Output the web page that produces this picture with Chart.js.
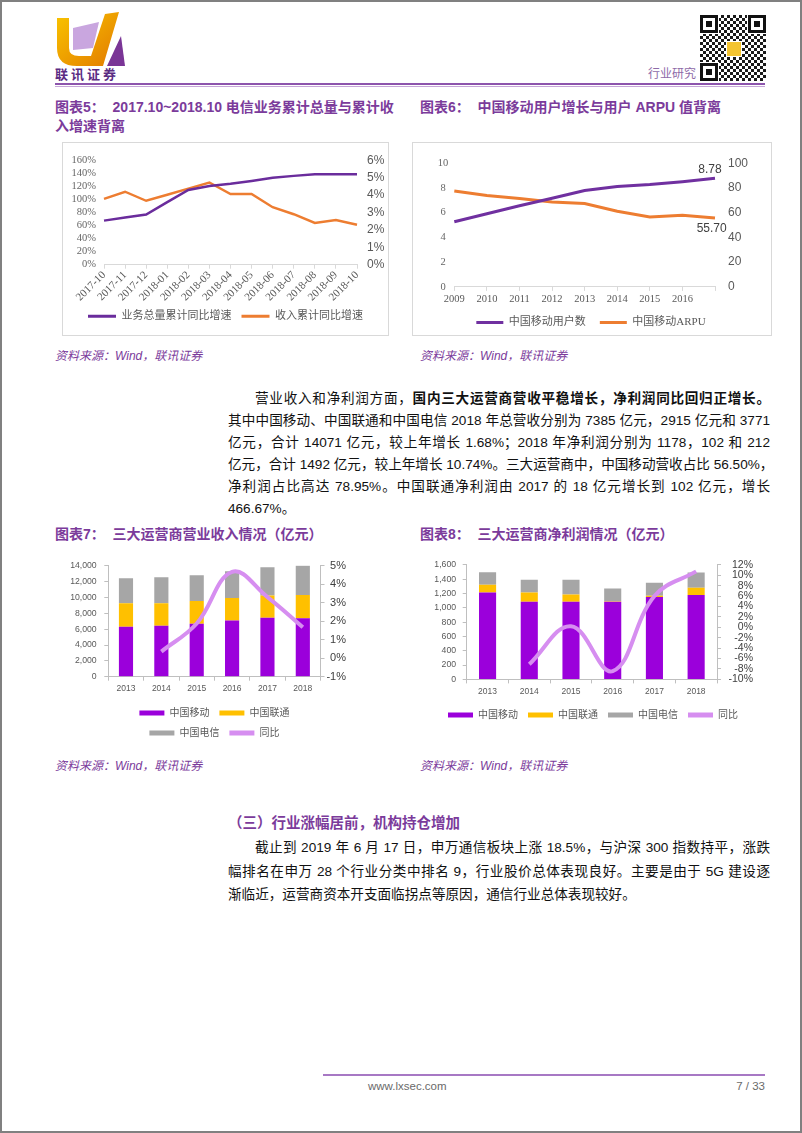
<!DOCTYPE html>
<html>
<head>
<meta charset="utf-8">
<script src="https://cdn.jsdelivr.net/npm/chart.js@4.4.0/dist/chart.umd.min.js"></script>
<style>
  html, body { margin: 0; padding: 0; background: #fff; }
  body { width: 802px; height: 1133px; position: relative; overflow: hidden;
         font-family: "Liberation Sans", "Noto Sans CJK SC", sans-serif; color: #111; }
  .frame { position: absolute; left: 0; top: 0; width: 798px; height: 1129px; border: 2px solid #808080; }
  .abs { position: absolute; }
  .title { position: absolute; color: #7B3B9B; font-weight: bold; font-size: 14px; line-height: 19px; white-space: nowrap; }
  .src { position: absolute; color: #7B3B9B; font-style: italic; font-size: 12px; line-height: 16px; white-space: nowrap; }
  .box { position: absolute; border: 1px solid #D9D9D9; }
  .chart { position: absolute; }
  .para { position: absolute; left: 228px; width: 542px; font-size: 13.6px; }
  .para div { white-space: nowrap; text-align: justify; text-align-last: justify; }
  .para div.last { text-align-last: left; }
  .fp { position: absolute; width: 6px; height: 6px; background: #111;
        box-shadow: 0 0 0 3px #fff, 0 0 0 6px #111, 0 0 0 7px #fff; }
</style>
</head>
<body>
<div class="frame"></div>

<!-- header -->
<svg class="abs" style="left:55px;top:10px" width="72" height="58" viewBox="0 0 72 58">
  <defs>
    <linearGradient id="lg" x1="0" y1="0" x2="1" y2="1">
      <stop offset="0" stop-color="#F9C400"/>
      <stop offset="1" stop-color="#E27A00"/>
    </linearGradient>
  </defs>
  <path d="M2 8 L14 8 L14 38 Q14 46 24 46 L36 46 L50 4 L64 2 L48 56 L22 56 Q2 56 2 38 Z" fill="url(#lg)"/>
  <path d="M18 18 L44 12 L38 38 L18 40 Z" fill="#C9A6DF"/>
  <path d="M52 56 L66 26 L70 56 Z" fill="#7A3596"/>
</svg>
<div class="abs" style="left:55px;top:64px;font-size:13px;font-weight:bold;color:#5B2C83;letter-spacing:3px;">联讯证券</div>
<div class="abs" style="left:700px;top:15px;width:66px;height:66px;background:repeating-conic-gradient(#1a1a1a 0 25%, #fff 0 50%) 0 0/6px 6px;">
  <div class="fp" style="left:6px;top:6px"></div>
  <div class="fp" style="left:54px;top:6px"></div>
  <div class="fp" style="left:6px;top:54px"></div>
  <div class="abs" style="left:26px;top:26px;width:14px;height:14px;background:#F4C430;border:1px solid #fff;"></div>
</div>
<div class="abs" style="left:648px;top:64px;font-size:12px;color:#8E6AA8;">行业研究</div>
<div class="abs" style="left:55px;top:83px;width:710px;height:2px;background:#8D55AD;"></div>
<div class="abs" style="left:55px;top:86px;width:710px;height:1px;background:#C7A6D8;"></div>

<!-- charts 5 & 6 -->
<div class="title" style="left:55px;top:98px;">图表5：&nbsp;&nbsp;2017.10~2018.10 电信业务累计总量与累计收</div>
<div class="title" style="left:55px;top:117px;">入增速背离</div>
<div class="title" style="left:420px;top:98px;">图表6：&nbsp;&nbsp;中国移动用户增长与用户 ARPU 值背离</div>

<div class="box" style="left:62px;top:142px;width:325px;height:192px;"></div>
<div class="box" style="left:412px;top:142px;width:358px;height:192px;"></div>
<div class="chart" style="left:63px;top:143px;width:325px;height:192px;"><canvas id="c5"></canvas></div>
<div class="chart" style="left:412px;top:143px;width:358px;height:195px;"><canvas id="c6"></canvas></div>

<div class="src" style="left:55px;top:348px;">资料来源：Wind，联讯证券</div>
<div class="src" style="left:420px;top:348px;">资料来源：Wind，联讯证券</div>

<div class="para" style="top:388px;line-height:22px;">
  <div style="padding-left:27px;">营业收入和净利润方面，<b>国内三大运营商营收平稳增长，净利润同比回归正增长。</b></div>
  <div>其中中国移动、中国联通和中国电信 2018 年总营收分别为 7385 亿元，2915 亿元和 3771</div>
  <div>亿元，合计 14071 亿元，较上年增长 1.68%；2018 年净利润分别为 1178，102 和 212</div>
  <div>亿元，合计 1492 亿元，较上年增长 10.74%。三大运营商中，中国移动营收占比 56.50%，</div>
  <div>净利润占比高达 78.95%。中国联通净利润由 2017 的 18 亿元增长到 102 亿元，增长</div>
  <div class="last">466.67%。</div>
</div>

<!-- charts 7 & 8 -->
<div class="title" style="left:55px;top:525px;">图表7：&nbsp;&nbsp;三大运营商营业收入情况（亿元）</div>
<div class="title" style="left:420px;top:525px;">图表8：&nbsp;&nbsp;三大运营商净利润情况（亿元）</div>
<div class="chart" style="left:55px;top:553px;width:335px;height:195px;"><canvas id="c7"></canvas></div>
<div class="chart" style="left:410px;top:553px;width:370px;height:177px;"><canvas id="c8"></canvas></div>
<div class="src" style="left:55px;top:758px;">资料来源：Wind，联讯证券</div>
<div class="src" style="left:420px;top:758px;">资料来源：Wind，联讯证券</div>

<div class="abs" style="left:228px;top:813px;font-size:14.5px;line-height:20px;font-weight:bold;color:#7B3B9B;white-space:nowrap;">（三）行业涨幅居前，机构持仓增加</div>
<div class="para" style="top:836px;line-height:23.5px;">
  <div style="padding-left:27px;">截止到 2019 年 6 月 17 日，申万通信板块上涨 18.5%，与沪深 300 指数持平，涨跌</div>
  <div>幅排名在申万 28 个行业分类中排名 9，行业股价总体表现良好。主要是由于 5G 建设逐</div>
  <div class="last">渐临近，运营商资本开支面临拐点等原因，通信行业总体表现较好。</div>
</div>

<!-- footer -->
<div class="abs" style="left:323px;top:1074px;width:442px;height:2px;background:#A778C4;"></div>
<div class="abs" style="left:368px;top:1079px;font-size:11.5px;line-height:14px;color:#6a6a6a;">www.lxsec.com</div>
<div class="abs" style="left:665px;top:1079px;width:100px;text-align:right;font-size:11.5px;line-height:14px;color:#6a6a6a;">7 / 33</div>

<script>
const sansCJK = '"Liberation Sans", "Noto Sans CJK SC", sans-serif';
const serifCJK = '"Liberation Serif", "Noto Sans CJK SC", serif';

// 图表5 电信业务累计总量 / 累计收入 同比增速
const c5Months = ['2017-10', '2017-11', '2017-12', '2018-01', '2018-02', '2018-03', '2018-04',
  '2018-05', '2018-06', '2018-07', '2018-08', '2018-09', '2018-10'];
const c5VolumeYoy = [67.5, 72.4, 76.8, 95.9, 114.5, 120.4, 123.8, 128.2, 133.0, 136.0, 138.5, 138.5, 138.5];
const c5RevenueYoy = [3.78, 4.19, 3.67, 4.02, 4.37, 4.72, 4.06, 4.06, 3.30, 2.90, 2.40, 2.56, 2.29];

// 图表6 中国移动用户数(亿) / ARPU(元)
const c6Years = ['2009', '2010', '2011', '2012', '2013', '2014', '2015', '2016', ''];
const c6Users = [5.27, 5.92, 6.56, 7.16, 7.79, 8.12, 8.27, 8.50, 8.78];
const c6Arpu = [77.6, 73.8, 71.4, 68.7, 67.4, 61.1, 56.6, 58.0, 55.70];

// 图表7 营业收入(亿元)
const c7Years = ['2013', '2014', '2015', '2016', '2017', '2018'];
const c7Mobile = [6300, 6430, 6690, 7100, 7440, 7385];
const c7Unicom = [2960, 2835, 2870, 2840, 2800, 2915];
const c7Telecom = [3180, 3300, 3260, 3390, 3595, 3771];
const c7Yoy = [null, 0.36, 1.88, 4.67, 3.31, 1.68];

// 图表8 净利润(亿元)
const c8Years = ['2013', '2014', '2015', '2016', '2017', '2018'];
const c8Mobile = [1213, 1086, 1086, 1086, 1150, 1178];
const c8Unicom = [108, 127, 100, 6, 18, 102];
const c8Telecom = [176, 180, 207, 179, 180, 212];
const c8Yoy = [null, -7.1, 0.2, -8.4, 6.0, 10.74];

const legendInOrder = (a, b) => a.datasetIndex - b.datasetIndex;
const flatBoxes = chart =>
  Chart.defaults.plugins.legend.labels.generateLabels(chart).map(l => Object.assign(l, { lineWidth: 0 }));
const pct = v => v + '%';

// values written at the end of the lines in chart 6
const endLabels = {
  id: 'endLabels',
  afterDatasetsDraw(chart, args, opts) {
    if (!opts.items) return;
    const ctx = chart.ctx;
    opts.items.forEach(it => {
      const meta = chart.getDatasetMeta(it.dataset);
      const values = chart.data.datasets[it.dataset].data;
      const idx = values.length - 1;
      const pt = meta.data[idx];
      ctx.save();
      ctx.font = '12px ' + sansCJK;
      ctx.fillStyle = '#404040';
      ctx.textAlign = 'center';
      ctx.textBaseline = 'middle';
      ctx.fillText(values[idx].toFixed(2), pt.x + it.dx, pt.y + it.dy);
      ctx.restore();
    });
  }
};

// ---- 图表5
new Chart(document.getElementById('c5'), {
  type: 'line',
  data: {
    labels: c5Months,
    datasets: [
      { label: '业务总量累计同比增速', data: c5VolumeYoy, yAxisID: 'y',
        borderColor: '#6A2C9C', backgroundColor: '#6A2C9C', borderWidth: 2.5, pointRadius: 0 },
      { label: '收入累计同比增速', data: c5RevenueYoy, yAxisID: 'y1',
        borderColor: '#ED7D31', backgroundColor: '#ED7D31', borderWidth: 2.5, pointRadius: 0 }
    ]
  },
  options: {
    responsive: true, maintainAspectRatio: false, animation: false, events: [],
    layout: { padding: { top: 12.7, bottom: 3.3, left: 0, right: 0 } },
    plugins: {
      tooltip: { enabled: false },
      legend: { position: 'bottom',
        labels: { boxWidth: 28, boxHeight: 3, padding: 10, color: '#595959',
          font: { family: serifCJK, size: 11 }, generateLabels: flatBoxes } }
    },
    scales: {
      x: {
        grid: { drawOnChartArea: false, tickLength: 4, color: '#D9D9D9' },
        border: { color: '#D9D9D9' },
        ticks: { minRotation: 45, maxRotation: 45, autoSkip: false, padding: 0, color: '#595959',
          font: { family: serifCJK, size: 11 } },
        afterFit: s => { s.height = 36; }
      },
      y: {
        position: 'left', min: 0, max: 160,
        grid: { display: false, drawTicks: false }, border: { display: false },
        ticks: { stepSize: 20, autoSkip: false, callback: pct, padding: 8, color: '#666',
          font: { family: serifCJK, size: 10.5 } },
        afterFit: s => { s.width = 41; }
      },
      y1: {
        position: 'right', min: 0, max: 6,
        grid: { display: false, drawTicks: false }, border: { display: false },
        ticks: { stepSize: 1, autoSkip: false, callback: pct, padding: 10, color: '#595959',
          font: { family: sansCJK, size: 12 } },
        afterFit: s => { s.width = 31; }
      }
    }
  }
});

// ---- 图表6
new Chart(document.getElementById('c6'), {
  type: 'line',
  data: {
    labels: c6Years,
    datasets: [
      { label: '中国移动用户数', data: c6Users, yAxisID: 'y',
        borderColor: '#7030A0', backgroundColor: '#7030A0', borderWidth: 3, pointRadius: 0 },
      { label: '中国移动ARPU', data: c6Arpu, yAxisID: 'y1',
        borderColor: '#ED7D31', backgroundColor: '#ED7D31', borderWidth: 3, pointRadius: 0 }
    ]
  },
  plugins: [endLabels],
  options: {
    responsive: true, maintainAspectRatio: false, animation: false, events: [],
    layout: { padding: { top: 12.7, bottom: 0, left: 0, right: 0 } },
    plugins: {
      tooltip: { enabled: false },
      endLabels: { items: [{ dataset: 0, dx: -5, dy: -8.4 }, { dataset: 1, dx: -3.3, dy: 10.6 }] },
      legend: { position: 'bottom',
        labels: { boxWidth: 27, boxHeight: 3, padding: 14, color: '#595959',
          font: { family: serifCJK, size: 11 }, generateLabels: flatBoxes } }
    },
    scales: {
      x: {
        grid: { drawOnChartArea: false, tickLength: 4, color: '#D9D9D9' },
        border: { color: '#D9D9D9' },
        ticks: { autoSkip: false, maxRotation: 0, padding: 2, color: '#595959',
          font: { family: serifCJK, size: 10.5 } },
        afterFit: s => { s.height = 16.1; }
      },
      y: {
        position: 'left', min: 0, max: 10,
        grid: { display: false, drawTicks: false }, border: { display: false },
        ticks: { stepSize: 2, autoSkip: false, crossAlign: 'center', padding: 6, color: '#666',
          font: { family: serifCJK, size: 10.5 } },
        afterFit: s => { s.width = 42.3; }
      },
      y1: {
        position: 'right', min: 0, max: 100,
        grid: { display: false, drawTicks: false }, border: { display: false },
        ticks: { stepSize: 20, autoSkip: false, padding: 13, color: '#595959',
          font: { family: sansCJK, size: 12 } },
        afterFit: s => { s.width = 55; }
      }
    }
  }
});

// stacked bars + smooth yoy line, shared by charts 7 and 8
function operatorChart(id, cfg) {
  const axisGrid = { drawOnChartArea: false, tickLength: 4, color: '#BFBFBF' };
  return new Chart(document.getElementById(id), {
    type: 'bar',
    data: {
      labels: cfg.labels,
      datasets: [
        { label: '中国移动', data: cfg.mobile, backgroundColor: '#9B00DB', order: 1 },
        { label: '中国联通', data: cfg.unicom, backgroundColor: '#FFC000', order: 1 },
        { label: '中国电信', data: cfg.telecom, backgroundColor: '#A6A6A6', order: 1 },
        { type: 'line', label: '同比', data: cfg.yoy, yAxisID: 'y1', order: 0,
          borderColor: '#D68EF0', backgroundColor: '#D68EF0', borderWidth: 4,
          pointRadius: 0, tension: 0.4 }
      ]
    },
    options: {
      responsive: true, maintainAspectRatio: false, animation: false, events: [],
      layout: { padding: cfg.padding },
      datasets: { bar: { barPercentage: cfg.barPct, categoryPercentage: 1 } },
      plugins: {
        tooltip: { enabled: false },
        legend: { position: 'bottom', fullSize: cfg.legendFull,
          labels: { boxWidth: 25, boxHeight: 5, padding: 10, color: '#595959',
            font: { family: sansCJK, size: 10 }, sort: legendInOrder, generateLabels: flatBoxes } }
      },
      scales: {
        x: {
          stacked: true,
          grid: axisGrid, border: { color: '#BFBFBF' },
          ticks: { padding: 3, color: '#595959', font: { family: sansCJK, size: 8.5 } },
          afterFit: s => { s.height = cfg.xHeight; }
        },
        y: {
          stacked: true, min: 0, max: cfg.yMax,
          grid: axisGrid, border: { color: '#BFBFBF' },
          ticks: { stepSize: cfg.yStep, autoSkip: false, padding: cfg.yPad, color: '#595959',
            font: { family: sansCJK, size: 8.7 }, callback: v => v.toLocaleString('en-US') },
          afterFit: s => { s.width = cfg.yWidth; }
        },
        y1: {
          position: 'right', stacked: false, min: cfg.y1Min, max: cfg.y1Max,
          grid: axisGrid, border: { color: '#BFBFBF' },
          ticks: { stepSize: cfg.y1Step, autoSkip: false, crossAlign: 'far', padding: 4, color: '#404040',
            font: { family: sansCJK, size: cfg.y1Font }, callback: pct },
          afterFit: s => { s.width = cfg.y1Width; }
        }
      }
    }
  });
}

// ---- 图表7
operatorChart('c7', {
  labels: c7Years, mobile: c7Mobile, unicom: c7Unicom, telecom: c7Telecom, yoy: c7Yoy,
  padding: { top: 12.7, right: 44, left: 0, bottom: 0 },
  barPct: 0.4, legendFull: false, xHeight: 21.3,
  yMax: 14000, yStep: 2000, yPad: 7.6, yWidth: 53.3,
  y1Min: -1, y1Max: 5, y1Step: 1, y1Font: 11, y1Width: 25.5
});

// ---- 图表8
operatorChart('c8', {
  labels: c8Years, mobile: c8Mobile, unicom: c8Unicom, telecom: c8Telecom, yoy: c8Yoy,
  padding: { top: 7.3, right: 27, left: 23, bottom: 0 },
  barPct: 0.41, legendFull: true, xHeight: 20.6,
  yMax: 1600, yStep: 200, yPad: 6.6, yWidth: 33.7,
  y1Min: -10, y1Max: 12, y1Step: 2, y1Font: 10.5, y1Width: 36
});
</script>
</body>
</html>
